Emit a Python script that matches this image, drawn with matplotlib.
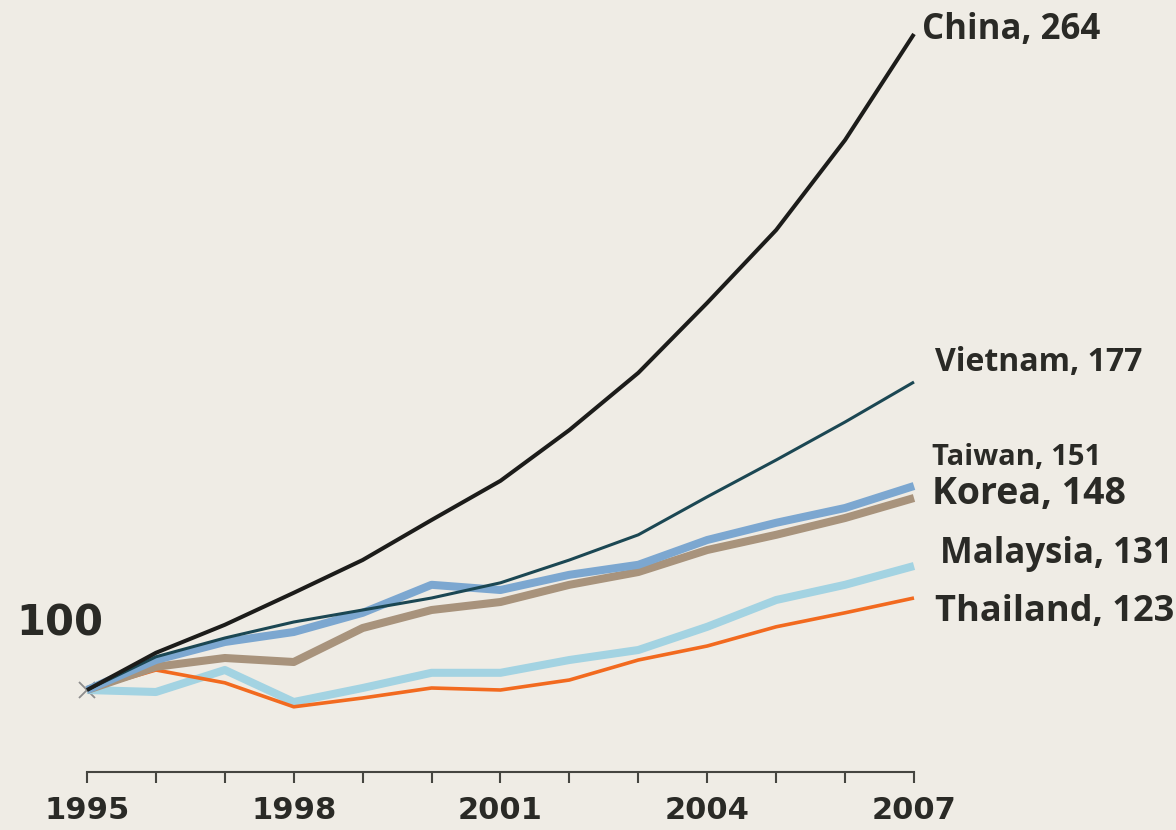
import matplotlib
matplotlib.use("Agg")
import matplotlib.pyplot as plt

# Index, 1995 = 100
years = list(range(1995, 2008))
china = [100, 109.3, 116.3, 124.3, 132.5, 142.5, 152.3, 165.0, 179.3, 196.8, 215.0, 237.5, 264]
vietnam = [100, 108.3, 113.0, 117.0, 120.0, 123.0, 126.8, 132.5, 138.8, 148.3, 157.5, 167.0, 177]
taiwan = [100, 107.5, 112.0, 114.5, 119.3, 126.3, 125.0, 128.8, 131.3, 137.5, 141.8, 145.5, 151]
korea = [100, 105.8, 108.0, 107.0, 115.5, 120.0, 122.0, 126.3, 129.5, 135.0, 138.8, 143.0, 148]
malaysia = [100, 99.5, 105.0, 97.0, 100.5, 104.3, 104.3, 107.5, 110.0, 115.8, 122.5, 126.3, 131]
thailand = [100, 105.0, 101.8, 95.8, 98.0, 100.5, 100.0, 102.5, 107.5, 111.0, 115.8, 119.3, 123]

tick_years = years
labelled_years = [1995, 1998, 2001, 2004, 2007]

BG = "#efece5"
INK = "#2a2a26"

fig = plt.figure(figsize=(11.76, 8.3), dpi=100, facecolor=BG)
ax = fig.add_axes([87 / 1176, (830 - 772) / 830, 827 / 1176, 772 / 830])
ax.set_facecolor(BG)
ax.set_xlim(1995, 2007)
ax.set_ylim(79.5, 272.5)

# (values, colour, width in points, label, font size, label offset px)
series = [
    (malaysia, "#a3d3e2", 5.8, "Malaysia", 25, (26, 12)),
    (thailand, "#f26a1f", 2.6, "Thailand", 26, (21, -14)),
    (korea, "#a8937c", 5.8, "Korea", 27, (18, 4)),
    (taiwan, "#7ca7d0", 5.8, "Taiwan", 21, (18, 29)),
    (vietnam, "#1b4753", 2.2, "Vietnam", 23, (21, 20)),
    (china, "#1c1c1a", 2.9, "China", 25, (8, 4)),
]

ax.plot([years[0]], [100], marker="x", markersize=11, mew=1.3,
        color="#8d8d8d", zorder=1, clip_on=False)

for i, (vals, col, lw, name, fs, off) in enumerate(series):
    ax.plot(years, vals, color=col, lw=lw, solid_joinstyle="round",
            solid_capstyle="butt", zorder=2 + i, clip_on=False)
    ax.annotate(f"{name}, {vals[-1]}", xy=(years[-1], vals[-1]),
                xytext=(off[0] * 0.72, off[1] * 0.72), textcoords="offset points",
                ha="left", va="center", fontsize=fs, fontweight="bold",
                family=["Open Sans", "DejaVu Sans"], color=INK,
                annotation_clip=False)

for s in ["top", "right", "left"]:
    ax.spines[s].set_visible(False)
ax.spines["bottom"].set_color("#454540")
ax.spines["bottom"].set_linewidth(1.5)
ax.set_yticks([])
ax.set_xticks(tick_years)
ax.set_xticklabels([str(y) if y in labelled_years else "" for y in tick_years])
ax.tick_params(axis="x", direction="out", length=8, width=1.5,
               color="#454540", pad=9, labelsize=22, labelcolor=INK)
for lab in ax.get_xticklabels():
    lab.set_fontweight("bold")
    lab.set_family("DejaVu Sans")

fig.text(60 / 1176, 1 - 623 / 830, "100", ha="center", va="center",
         fontsize=30, fontweight="bold", family="DejaVu Sans", color=INK)

fig.savefig("out.png", dpi=100, facecolor=BG)
